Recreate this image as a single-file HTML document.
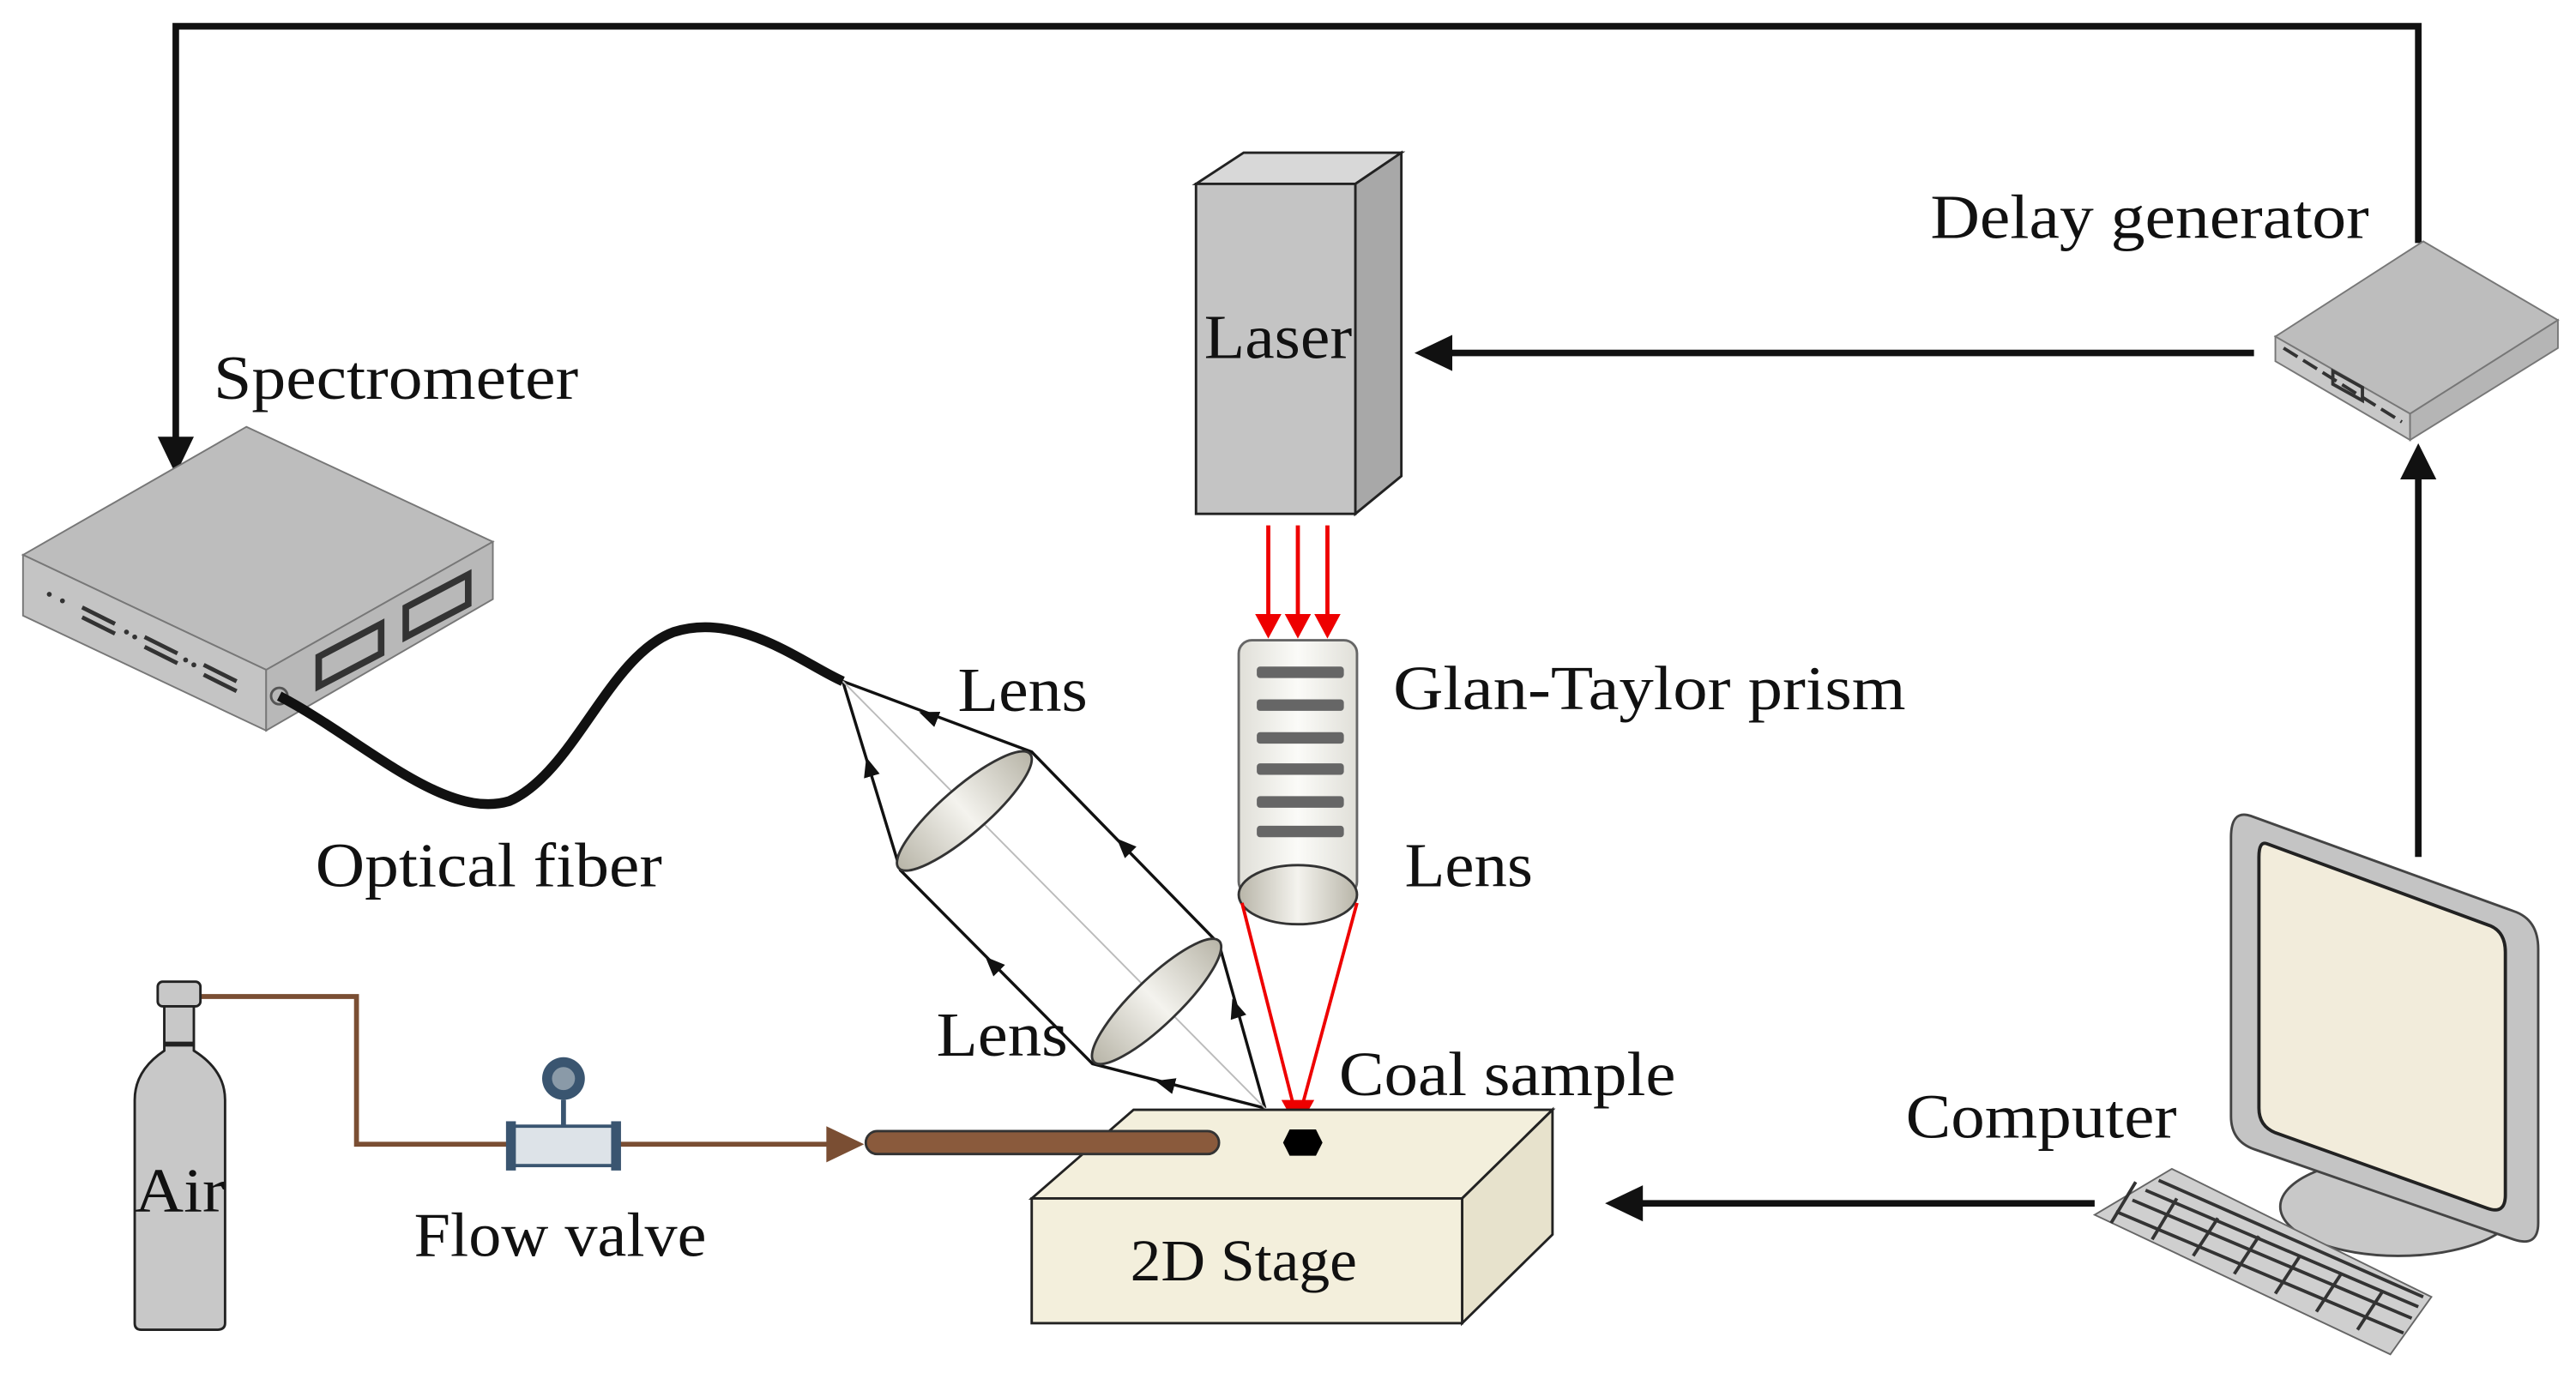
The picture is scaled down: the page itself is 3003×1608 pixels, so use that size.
<!DOCTYPE html>
<html><head><meta charset="utf-8"><style>
html,body{margin:0;padding:0;background:#fff;}
svg{display:block;}
text{font-family:"Liberation Serif",serif;fill:#111;}
</style></head><body>
<svg width="3003" height="1608" viewBox="0 0 1568 840" preserveAspectRatio="none" xmlns="http://www.w3.org/2000/svg">
<defs>
<marker id="ab" markerWidth="12" markerHeight="10" refX="6" refY="5" orient="auto" markerUnits="userSpaceOnUse"><path d="M0,0 L12,5 L0,10z" fill="#111"/></marker>
<linearGradient id="lg" x1="0" x2="1"><stop offset="0" stop-color="#b8b5a8"/><stop offset="0.5" stop-color="#f4f3ee"/><stop offset="1" stop-color="#b8b5a8"/></linearGradient>
<linearGradient id="pg" x1="0" x2="1"><stop offset="0" stop-color="#e0dfd8"/><stop offset="0.5" stop-color="#fbfbf8"/><stop offset="1" stop-color="#e0dfd8"/></linearGradient>
</defs>
<rect width="1568" height="840" fill="#fff"/>

<polyline points="1472,148 1472,16 107,16 107,268" fill="none" stroke="#111" stroke-width="4"/>
<path d="M96,266 L118,266 L107,289z" fill="#111"/>

<text x="130" y="243" font-size="38" textLength="222" lengthAdjust="spacingAndGlyphs">Spectrometer</text>
<polygon points="14,338 150,260 300,330 162,408" fill="#bdbdbd" stroke="#777" stroke-width="1"/>
<polygon points="14,338 162,408 162,445 14,375" fill="#c4c4c4" stroke="#777" stroke-width="1"/>
<polygon points="162,408 300,330 300,365 162,445" fill="#b8b8b8" stroke="#777" stroke-width="1"/>
<polygon points="194,400 232,380 232,398 194,418" fill="none" stroke="#333" stroke-width="4"/>
<polygon points="247,370 285,350 285,368 247,388" fill="none" stroke="#333" stroke-width="4"/>
<g stroke="#333" stroke-width="2.5">
<line x1="50" y1="370" x2="70" y2="380"/><line x1="50" y1="376" x2="70" y2="386"/>
<line x1="88" y1="388" x2="108" y2="398"/><line x1="88" y1="394" x2="108" y2="404"/>
<line x1="124" y1="405" x2="144" y2="415"/><line x1="124" y1="411" x2="144" y2="421"/>
</g>
<g fill="#333"><circle cx="30" cy="362" r="1.5"/><circle cx="38" cy="366" r="1.5"/><circle cx="77" cy="385" r="1.5"/><circle cx="82" cy="388" r="1.5"/><circle cx="113" cy="402" r="1.5"/><circle cx="118" cy="405" r="1.5"/></g>
<circle cx="170" cy="424" r="5" fill="none" stroke="#555" stroke-width="1.5"/>
<path d="M170,424 C220,450 270,500 310,488 C350,470 370,400 410,385 C450,372 490,405 513,415" fill="none" stroke="#111" stroke-width="6"/>
<text x="192" y="540" font-size="38" textLength="211" lengthAdjust="spacingAndGlyphs">Optical fiber</text>

<polygon points="728,112 757,93 853,93 825,112" fill="#d8d8d8" stroke="#222" stroke-width="1.5"/>
<polygon points="825,112 853,93 853,290 825,313" fill="#a8a8a8" stroke="#222" stroke-width="1.5"/>
<rect x="728" y="112" width="97" height="201" fill="#c4c4c4" stroke="#222" stroke-width="1.5"/>
<text x="733" y="218" font-size="38" textLength="90" lengthAdjust="spacingAndGlyphs">Laser</text>
<g stroke="#e00" stroke-width="2.5">
<line x1="772" y1="320" x2="772" y2="376"/><line x1="790" y1="320" x2="790" y2="376"/><line x1="808" y1="320" x2="808" y2="376"/>
</g>
<g fill="#e00"><path d="M764,374 L780,374 L772,389z"/><path d="M782,374 L798,374 L790,389z"/><path d="M800,374 L816,374 L808,389z"/></g>

<text x="1175" y="145" font-size="38" textLength="267" lengthAdjust="spacingAndGlyphs">Delay generator</text>
<polygon points="1385,205 1475,147 1557,195 1467,252" fill="#bdbdbd" stroke="#777"/>
<polygon points="1385,205 1467,252 1467,268 1385,220" fill="#c8c8c8" stroke="#777"/>
<polygon points="1467,252 1557,195 1557,212 1467,268" fill="#b5b5b5" stroke="#777"/>
<line x1="1390" y1="212" x2="1462" y2="257" stroke="#333" stroke-width="2" stroke-dasharray="10,4"/>
<polygon points="1420,226 1438,236 1438,244 1420,234" fill="none" stroke="#333" stroke-width="2"/>
<line x1="1372" y1="215" x2="880" y2="215" stroke="#111" stroke-width="4"/>
<path d="M884,204 L884,226 L861,215z" fill="#111"/>

<rect x="754" y="390" width="72" height="155" rx="8" fill="url(#pg)" stroke="#666" stroke-width="1.5"/>
<g fill="#666"><rect x="765" y="406" width="53" height="7" rx="2"/><rect x="765" y="426" width="53" height="7" rx="2"/><rect x="765" y="446" width="53" height="7" rx="2"/><rect x="765" y="465" width="53" height="7" rx="2"/><rect x="765" y="485" width="53" height="7" rx="2"/><rect x="765" y="503" width="53" height="7" rx="2"/></g>
<ellipse cx="790" cy="545" rx="36" ry="18" fill="url(#lg)" stroke="#333" stroke-width="1.5"/>
<text x="848" y="432" font-size="38" textLength="312" lengthAdjust="spacingAndGlyphs">Glan-Taylor prism</text>
<text x="855" y="540" font-size="38" textLength="78" lengthAdjust="spacingAndGlyphs">Lens</text>
<g stroke="#e00" stroke-width="2"><line x1="756" y1="550" x2="788" y2="676"/><line x1="826" y1="550" x2="792" y2="676"/></g>
<path d="M780,670 L800,670 L790,688z" fill="#e00"/>

<!-- rays -->
<g stroke="#111" stroke-width="1.8" fill="none">
<polyline points="513,415 548,530 665,648 770,675"/>
<polyline points="513,415 628,458 742,575 770,675"/>
</g>
<line x1="513" y1="415" x2="770" y2="675" stroke="#bbb" stroke-width="1"/>
<g stroke="none" fill="none" marker-end="url(#ab)">
<path d="M534,484 L529,467"/>
<path d="M612,595 L604,587"/>
<path d="M692,523 L684,515"/>
<path d="M720,663 L709,660"/>
<path d="M756,626 L752,614"/>
<path d="M575,440 L565,436"/>
</g>
<ellipse cx="587" cy="494" rx="53" ry="14" transform="rotate(-41 587 494)" fill="url(#lg)" stroke="#333" stroke-width="1.5"/>
<ellipse cx="704" cy="610" rx="53" ry="14" transform="rotate(-44 704 610)" fill="url(#lg)" stroke="#333" stroke-width="1.5"/>
<text x="583" y="433" font-size="38" textLength="79" lengthAdjust="spacingAndGlyphs">Lens</text>
<text x="570" y="643" font-size="38" textLength="80" lengthAdjust="spacingAndGlyphs">Lens</text>

<polygon points="628,730 690,676 945,676 890,730" fill="#f3efdc" stroke="#222" stroke-width="1.5"/>
<polygon points="890,730 945,676 945,752 890,806" fill="#e7e2cc" stroke="#222" stroke-width="1.5"/>
<rect x="628" y="730" width="262" height="76" fill="#f3efdc" stroke="#222" stroke-width="1.5"/>
<text x="688" y="780" font-size="36" textLength="138" lengthAdjust="spacingAndGlyphs">2D Stage</text>
<polygon points="785,688 801,688 805,696 801,704 785,704 781,696" fill="#000"/>
<text x="815" y="667" font-size="38" textLength="205" lengthAdjust="spacingAndGlyphs">Coal sample</text>
<rect x="527" y="689" width="215" height="14" rx="7" fill="#8a5a3c" stroke="#333" stroke-width="1.5"/>

<polyline points="120,607 217,607 217,697 505,697" fill="none" stroke="#7a4e33" stroke-width="3"/>
<path d="M503,686 L503,708 L526,697z" fill="#7a4e33"/>
<rect x="312" y="686" width="62" height="24" fill="#dde3e8" stroke="#3a5570" stroke-width="2"/>
<rect x="308" y="683" width="6" height="30" fill="#3a5570"/><rect x="372" y="683" width="6" height="30" fill="#3a5570"/>
<line x1="343" y1="670" x2="343" y2="686" stroke="#3a5570" stroke-width="3"/>
<circle cx="343" cy="657" r="13" fill="#3a5570"/><circle cx="343" cy="657" r="7" fill="#8a9aa8"/>
<text x="252" y="765" font-size="38" textLength="178" lengthAdjust="spacingAndGlyphs">Flow valve</text>
<rect x="96" y="598" width="26" height="15" rx="3" fill="#c8c8c8" stroke="#222" stroke-width="1.5"/>
<path d="M100,613 L118,613 L118,640 Q137,652 137,670 L137,806 Q137,810 132,810 L86,810 Q82,810 82,806 L82,670 Q82,652 100,640z" fill="#c8c8c8" stroke="#222" stroke-width="1.5"/>
<line x1="100" y1="636" x2="118" y2="636" stroke="#222" stroke-width="3"/>
<text x="82" y="738" font-size="38" textLength="55" lengthAdjust="spacingAndGlyphs">Air</text>

<line x1="1472" y1="522" x2="1472" y2="290" stroke="#111" stroke-width="4"/>
<path d="M1461,292 L1483,292 L1472,270z" fill="#111"/>
<line x1="1275" y1="733" x2="996" y2="733" stroke="#111" stroke-width="4"/>
<path d="M1000,722 L1000,744 L977,733z" fill="#111"/>
<text x="1160" y="693" font-size="38" textLength="165" lengthAdjust="spacingAndGlyphs">Computer</text>
<ellipse cx="1460" cy="735" rx="72" ry="30" fill="#c8c8c8" stroke="#444" stroke-width="1.5"/>
<path d="M1370,497 L1530,555 Q1545,560 1545,578 L1545,745 Q1545,760 1530,755 L1372,700 Q1358,695 1358,680 L1358,510 Q1358,493 1370,497z" fill="#c4c4c4" stroke="#444" stroke-width="1.5"/>
<path d="M1380,514 L1516,564 Q1525,568 1525,580 L1525,728 Q1525,740 1514,736 L1385,690 Q1375,686 1375,675 L1375,522 Q1375,512 1380,514z" fill="#f2ecdb" stroke="#222" stroke-width="2"/>
<polygon points="1275,740 1322,712 1480,790 1455,825" fill="#cfcfcf" stroke="#666" stroke-width="1"/>
<g stroke="#333" stroke-width="2">
<line x1="1288" y1="738" x2="1463" y2="812"/><line x1="1298" y1="731" x2="1468" y2="803"/><line x1="1306" y1="725" x2="1472" y2="796"/><line x1="1314" y1="719" x2="1475" y2="790"/>
<line x1="1300" y1="720" x2="1285" y2="745"/><line x1="1325" y1="730" x2="1310" y2="755"/><line x1="1350" y1="742" x2="1335" y2="765"/><line x1="1375" y1="753" x2="1360" y2="776"/><line x1="1400" y1="765" x2="1385" y2="788"/><line x1="1425" y1="776" x2="1410" y2="799"/><line x1="1450" y1="787" x2="1435" y2="810"/>
</g>
</svg>
</body></html>
